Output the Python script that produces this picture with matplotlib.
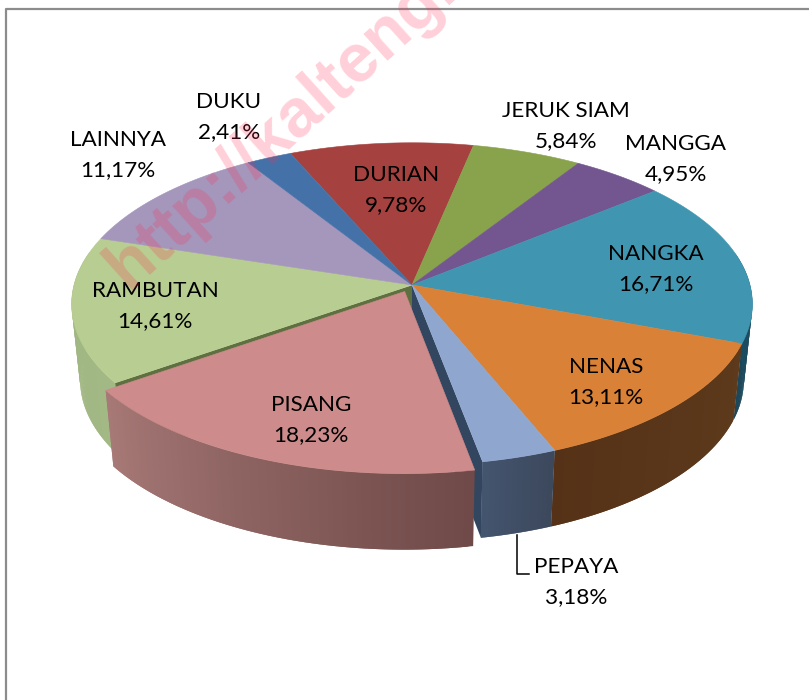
# plot.py - 3D style exploded pie, drawn by hand on a pixel sized axes
import numpy as np
import matplotlib
matplotlib.use('Agg')
import matplotlib.pyplot as plt
from matplotlib.patches import Polygon

plt.rcParams['font.family'] = ['Lato', 'DejaVu Sans']

# ---------------------------------------------------------------------------
# Data
# ---------------------------------------------------------------------------
names = ['DURIAN', 'JERUK SIAM', 'MANGGA', 'NANGKA', 'NENAS', 'PEPAYA',
         'PISANG', 'RAMBUTAN', 'LAINNYA', 'DUKU']
values = [9.78, 5.84, 4.95, 16.71, 13.11, 3.18, 18.23, 14.61, 11.17, 2.41]
value_labels = ['9,78%', '5,84%', '4,95%', '16,71%', '13,11%', '3,18%',
                '18,23%', '14,61%', '11,17%', '2,41%']

# ---------------------------------------------------------------------------
# Style
# ---------------------------------------------------------------------------
top_colors = ['#a5423f', '#89a34c', '#735590', '#4096b1', '#d98137',
              '#8fa7cf', '#cd8b8b', '#b8cd91', '#a596bb', '#4472a8']
wall_from = ['#5c2422', '#4c5a2a', '#3f2f50', '#1a5a72', '#5e3a1c',
             '#3c485c', '#6f4a48', '#a3b985', '#5c5368', '#263f5d']
wall_to = ['#5c2422', '#4c5a2a', '#3f2f50', '#1c4658', '#553217',
           '#44556f', '#a87a78', '#9fb581', '#5c5368', '#263f5d']
cut_colors = {'PEPAYA': '#33465f', 'RAMBUTAN': '#5f7040'}
label_pos = [(396, 190), (566, 126), (676, 159), (656, 269), (606, 382),
             (576, 582), (311, 420), (155, 306), (118, 155), (229, 117)]

CX, CY = 412.0, 285.0
A, B, K = 338.0, 159.0, 0.118   # disk half axes and perspective strength
DEPTH = 76.0
BOTTOM_SCALE = 0.975
START = -23.5
EXPLODE = {'PISANG': 0.046}
EXPLODE_DIR = 208.0


def project(x, y, bottom=False):
    den = 1 + K * y
    sx = A * x / den
    sy = -B * y / den
    if bottom:
        return CX + BOTTOM_SCALE * sx, CY + sy + DEPTH
    return CX + sx, CY + sy


fig = plt.figure(figsize=(8.09, 7.0), dpi=100)
ax = fig.add_axes([0, 0, 1, 1])
ax.set_xlim(0, 809)
ax.set_ylim(700, 0)
ax.axis('off')

# frame of the pasted chart
ax.plot([6, 6, 809], [700, 9, 9], color='#8c8c8c', lw=1.6, zorder=0)

# slice angles, clockwise from the back of the disk
angles = START + np.concatenate([[0], np.cumsum(values)]) * 3.6


def slice_geometry(i):
    t = np.radians(np.linspace(angles[i], angles[i + 1], 90))
    ox, oy = 0.0, 0.0
    if names[i] in EXPLODE:
        ox = EXPLODE[names[i]] * np.sin(np.radians(EXPLODE_DIR))
        oy = EXPLODE[names[i]] * np.cos(np.radians(EXPLODE_DIR))
    return np.sin(t) + ox, np.cos(t) + oy, ox, oy


def draw_walls(i, z):
    x, y, _, _ = slice_geometry(i)
    c0 = np.array(matplotlib.colors.to_rgb(wall_from[i]))
    c1 = np.array(matplotlib.colors.to_rgb(wall_to[i]))
    n = len(x) - 1
    # strips run backwards and overlap by one step so no seams show
    for j in range(n - 1, -1, -1):
        if y[j] > 0.2 and y[j + 1] > 0.2:
            continue
        xt, yt = project(x[j:j + 3], y[j:j + 3])
        xb, yb = project(x[j:j + 3], y[j:j + 3], bottom=True)
        col = c0 + (c1 - c0) * j / n
        ax.add_patch(Polygon(np.c_[np.r_[xt, xb[::-1]], np.r_[yt, yb[::-1]]],
                             facecolor=col, edgecolor='none', zorder=z))


def draw_cut(i, edge, z):
    # radial face of a slice, only seen through the gap by the exploded one
    x, y, ox, oy = slice_geometry(i)
    k = 0 if edge == 'start' else -1
    xt, yt = project(np.array([ox, x[k]]), np.array([oy, y[k]]))
    xb, yb = project(np.array([ox, x[k]]), np.array([oy, y[k]]), bottom=True)
    ax.add_patch(Polygon(np.c_[np.r_[xt, xb[::-1]], np.r_[yt, yb[::-1]]],
                         facecolor=cut_colors[names[i]], edgecolor='none', zorder=z))


def draw_top(i, z):
    x, y, ox, oy = slice_geometry(i)
    sx, sy = project(np.r_[ox, x], np.r_[oy, y])
    ax.add_patch(Polygon(np.c_[sx, sy], facecolor=top_colors[i],
                         edgecolor=top_colors[i], lw=0.4, zorder=z))


# walls and cut faces of the fixed slices
for i, name in enumerate(names):
    if name not in EXPLODE:
        draw_walls(i, 1)
draw_cut(names.index('PEPAYA'), 'end', 1.5)
draw_cut(names.index('RAMBUTAN'), 'start', 1.5)

for i, name in enumerate(names):
    if name not in EXPLODE:
        draw_top(i, 2)

# exploded slice sits above the others
for i, name in enumerate(names):
    if name in EXPLODE:
        draw_walls(i, 3)
        draw_top(i, 4)

# labels
for name, val, (lx, ly) in zip(names, value_labels, label_pos):
    ax.text(lx, ly, name + '\n' + val, ha='center', va='center',
            fontsize=16.2, color='black', linespacing=1.58, zorder=6)

# leader line for the small slice
ax.plot([517, 517, 529], [535, 574, 574], color='black', lw=1.1, zorder=6)

# watermark
ax.text(128, 291, 'http://kalteng.', rotation=42, rotation_mode='anchor',
        ha='left', va='baseline', fontsize=49, fontweight='bold',
        family=['Liberation Sans', 'DejaVu Sans'], color='#ff2850', alpha=0.22,
        zorder=7, clip_on=True)

fig.savefig('out.png', dpi=100)
